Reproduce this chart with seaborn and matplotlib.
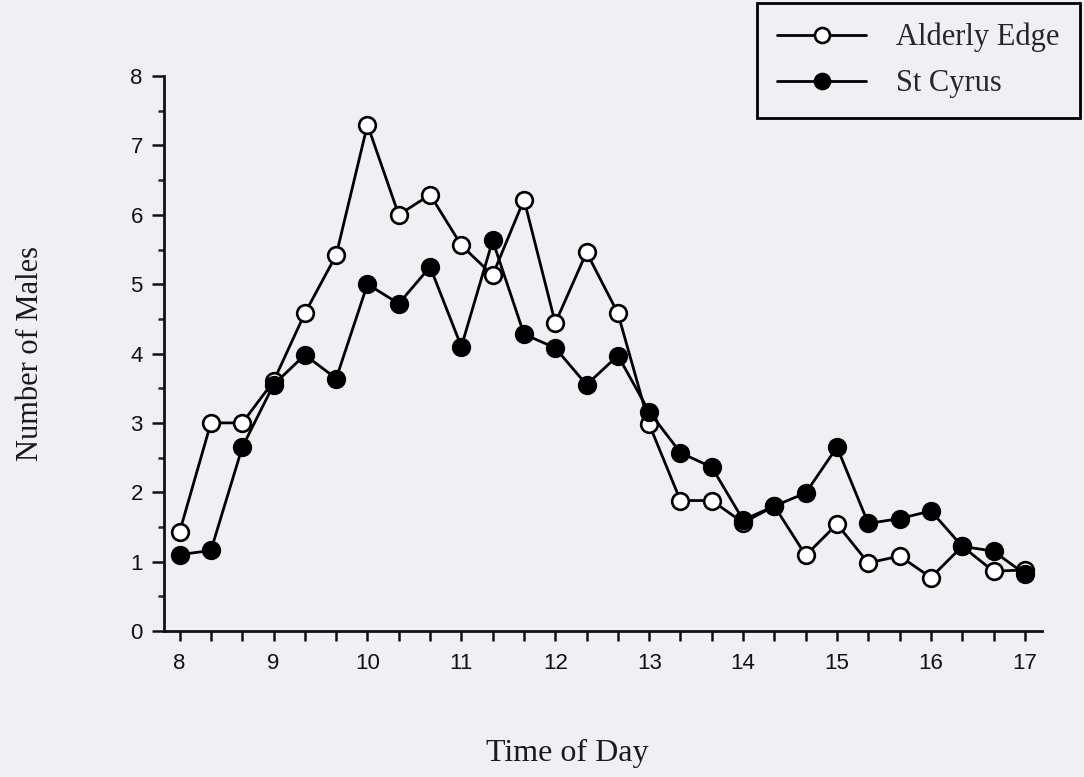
import numpy as np
import pandas as pd
import matplotlib
matplotlib.use("Agg")
import matplotlib.pyplot as plt
import seaborn as sns
from matplotlib.ticker import MultipleLocator


# time of day in hours, one count every 20 minutes
times = [8.0, 8.333, 8.667, 9.0, 9.333, 9.667, 10.0, 10.333, 10.667,
         11.0, 11.333, 11.667, 12.0, 12.333, 12.667, 13.0, 13.333, 13.667,
         14.0, 14.333, 14.667, 15.0, 15.333, 15.667, 16.0, 16.333, 16.667, 17.0]

alderly_edge = [1.43, 3.0, 3.0, 3.6, 4.58, 5.42, 7.3, 6.0, 6.29,
                5.56, 5.13, 6.22, 4.44, 5.46, 4.58, 2.98, 1.88, 1.88,
                1.56, 1.8, 1.09, 1.54, 0.98, 1.08, 0.77, 1.22, 0.86, 0.88]

st_cyrus = [1.1, 1.16, 2.65, 3.55, 3.98, 3.64, 5.0, 4.72, 5.25,
            4.1, 5.63, 4.28, 4.08, 3.55, 3.97, 3.16, 2.57, 2.36,
            1.6, 1.8, 1.99, 2.65, 1.55, 1.62, 1.73, 1.22, 1.15, 0.82]

site_names = ["Alderly Edge", "St Cyrus"]
hour_labels = ["8", "9", "10", "11", "12", "13", "14", "15", "16", "17"]

df = pd.DataFrame({
    "time": times * 2,
    "males": alderly_edge + st_cyrus,
    "site": [site_names[0]] * len(times) + [site_names[1]] * len(times),
})

bg = "#f0f0f4"
sns.set_style("ticks")
plt.rcParams["font.family"] = ["Liberation Sans", "DejaVu Sans"]

fig = plt.figure(figsize=(10.84, 7.77), dpi=100, facecolor=bg)
ax = fig.add_axes([0.151, 0.188, 0.810, 0.714], facecolor=bg)

marker_kw = dict(marker="o", markersize=12, markeredgewidth=1.9,
                 markeredgecolor="black", color="black", linewidth=2.0)

sns.lineplot(data=df[df["site"] == site_names[0]], x="time", y="males",
             markerfacecolor="white", label=site_names[0], ax=ax, **marker_kw)
sns.lineplot(data=df[df["site"] == site_names[1]], x="time", y="males",
             markerfacecolor="black", label=site_names[1], ax=ax, **marker_kw)

ax.set_xlim(7.83, 17.18)
ax.set_ylim(0, 8)

# x ticks every 20 min, labels on the hour
ax.set_xticks(times)
ax.set_xticklabels([hour_labels[int(round(t)) - 8] if abs(t - round(t)) < 0.01 else ""
                    for t in times])
ax.yaxis.set_major_locator(MultipleLocator(1))
ax.yaxis.set_minor_locator(MultipleLocator(0.5))

ax.tick_params(axis="x", direction="out", length=7, width=1.8, pad=9,
               labelsize=16, colors="#111111")
ax.tick_params(axis="y", which="major", direction="out", length=9, width=1.8,
               pad=6, labelsize=16, colors="#111111")
ax.tick_params(axis="y", which="minor", direction="out", length=4, width=1.8)

for side in ["top", "right"]:
    ax.spines[side].set_visible(False)
for side in ["left", "bottom"]:
    ax.spines[side].set_linewidth(2.0)
    ax.spines[side].set_color("#111111")

serif = ["Liberation Serif", "DejaVu Serif"]
ax.set_xlabel("Time of Day", fontsize=23, family=serif, color="#1a1a1a")
ax.set_ylabel("Number of Males", fontsize=22, family=serif, color="#1a1a1a")
ax.xaxis.set_label_coords(0.46, -0.195)
ax.yaxis.set_label_coords(-0.135, 0.5)

leg = ax.legend(loc="upper right", bbox_to_anchor=(0.996, 0.996),
                bbox_transform=fig.transFigure, frameon=True, fancybox=False,
                prop={"family": serif, "size": 22}, handlelength=2.9,
                handletextpad=1.0, labelspacing=0.55, borderpad=0.65,
                borderaxespad=0, markerscale=0.9)
leg.get_frame().set_edgecolor("black")
leg.get_frame().set_linewidth(2.0)
leg.get_frame().set_facecolor(bg)
leg.get_frame().set_alpha(1)

fig.savefig("out.png", dpi=100, facecolor=bg)
